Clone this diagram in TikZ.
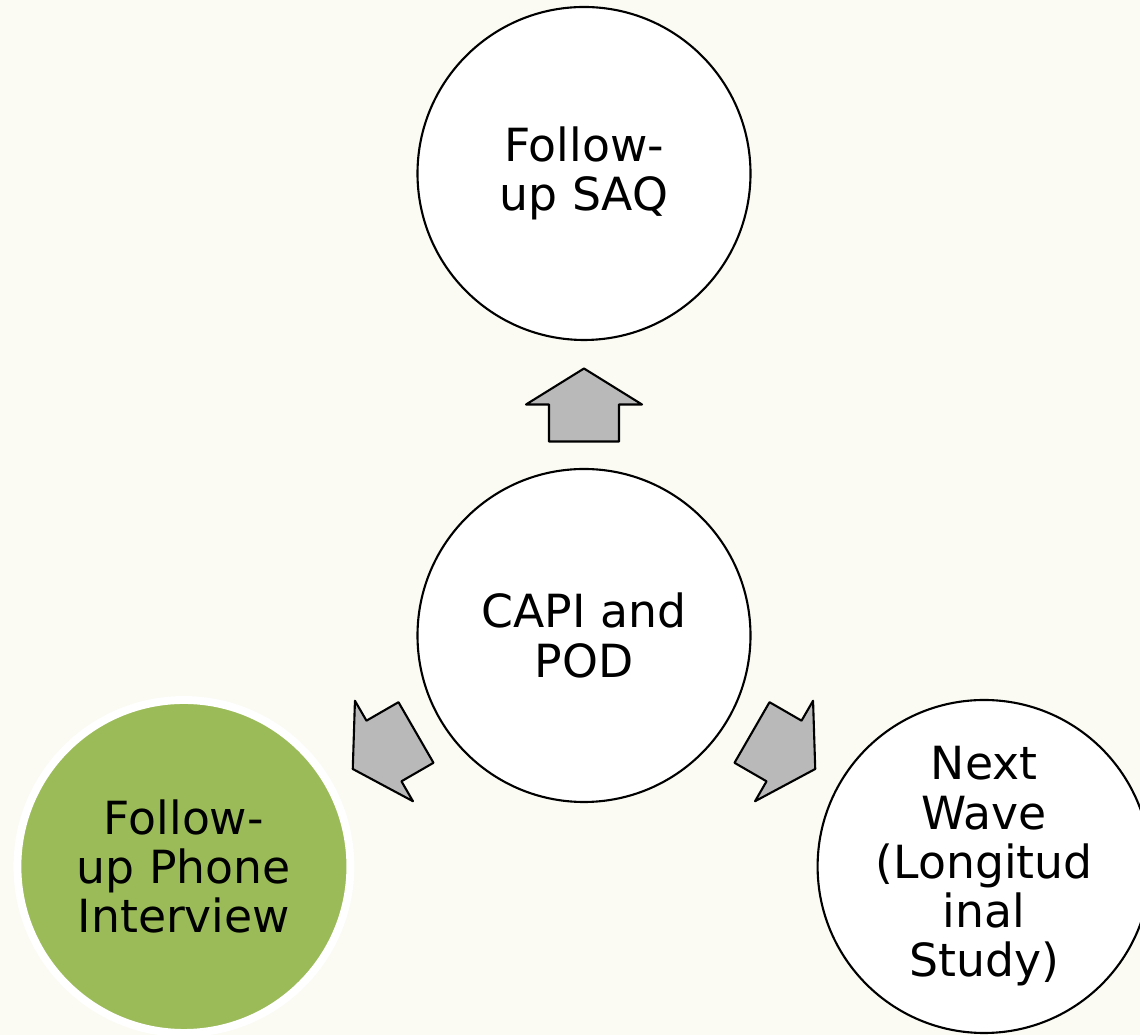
\documentclass[tikz,border=0pt]{standalone}
\usepackage{xcolor}
\usepackage{fontspec}
\setmainfont{DejaVu Sans}
\usepackage{tikz}
\usetikzlibrary{calc, positioning, shadows}

\definecolor{bgcream}{RGB}{251,251,244}
\definecolor{olivegreen}{RGB}{155,187,89}

\begin{document}
\begin{tikzpicture}[
    font=\fontsize{26}{28}\selectfont,
    % Node styles
    whitecircle/.style={circle, draw=black, line width=1.2pt, fill=white, align=center, inner sep=0pt, minimum size=6.66cm},
    greencircle/.style={circle, draw=white, line width=4.5pt, fill=olivegreen, align=center, inner sep=0pt, minimum size=6.66cm,
        drop shadow={shadow xshift=0pt, shadow yshift=0pt, shadow scale=1.02, fill=black, opacity=0.12}},
    blockarrow/.style={draw=black, line width=1.2pt, line join=round, fill=gray!55}
]

% ========== CANVAS ==========
\fill[bgcream] (0,0) rectangle (22.8,20.7);
\useasboundingbox (0,0) rectangle (22.8,20.7);
\clip (0,0) rectangle (22.8,20.7);

% ========== CIRCLES ==========
% Hub
\node[whitecircle] (capi) at (11.68, 7.99) {CAPI and\\POD};

% Satellites
\node[whitecircle] (saq) at ($(capi)+(90:9.24)$) {Follow-\\up SAQ};
\node[greencircle] (phone) at ($(capi)+(210:9.24)$) {Follow-\\up Phone\\Interview};
\node[whitecircle] (wave) at ($(capi)+(330:9.24)$) {Next\\Wave\\(Longitud\\inal\\Study)};

% ========== ARROWS ==========
\foreach \target/\ang in {saq/90, phone/210, wave/330}
    \draw[blockarrow, shift={($(capi)!0.5!(\target)$)}, rotate=\ang]
        (-0.74,-0.7) -- (0,-0.7) -- (0,-1.16) -- (0.72,0) -- (0,1.16) -- (0,0.7) -- (-0.74,0.7) -- cycle;

\end{tikzpicture}
\end{document}
